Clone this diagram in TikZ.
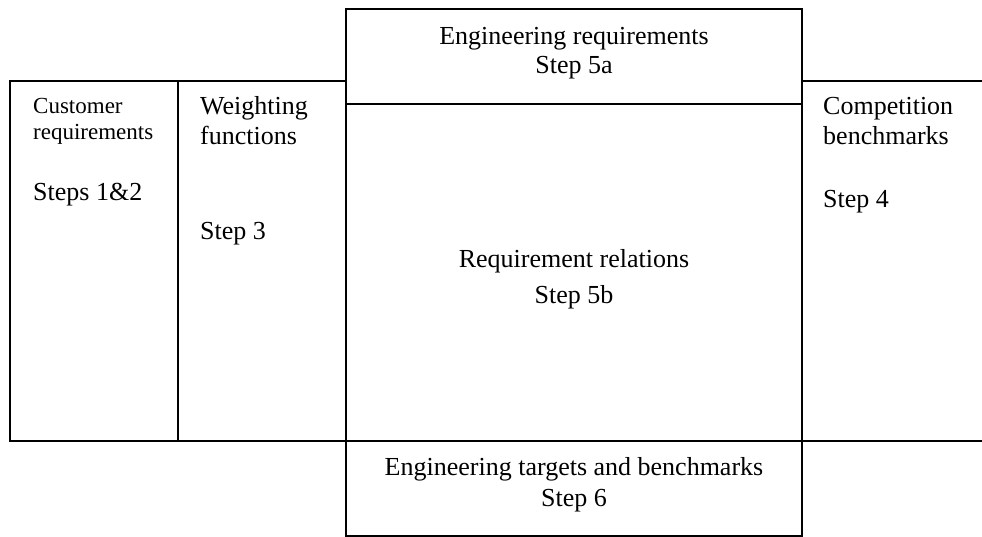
\documentclass[tikz,border=0pt]{standalone}
\usepackage{fontspec}
\setmainfont{Liberation Serif}
\begin{document}
\begin{tikzpicture}[x=1pt,y=-1pt,
  box/.style={draw, line width=1.6pt, inner sep=0pt, outer sep=0pt, anchor=north west},
  lbl/.style={inner sep=0pt, anchor=base west, font=\fontsize{26}{30}\selectfont},
  slbl/.style={inner sep=0pt, anchor=base west, font=\fontsize{23}{26}\selectfont},
  clbl/.style={inner sep=0pt, anchor=base, font=\fontsize{26}{30}\selectfont}]
\useasboundingbox (0,0) rectangle (982,537);
% boxes
\node[box, minimum width=456pt, minimum height=95pt] (top) at (346,9) {};
\node[box, minimum width=168pt, minimum height=360pt] (cust) at (10,81) {};
\node[box, minimum width=168pt, minimum height=360pt] (weight) at (178,81) {};
\node[box, minimum width=456pt, minimum height=337pt] (rel) at (346,104) {};
\node[box, minimum width=456pt, minimum height=95pt] (bot) at (346,441) {};
\coordinate (ctr) at (982,81);
\coordinate (cbr) at (982,441);
\draw[line width=1.6pt] (ctr) -- (rel.north east |- ctr) -- (rel.south east) -- (cbr);
% texts
\node[clbl] (t1) at (574,45) {Engineering requirements};
\node[clbl] (t2) at (574,74) {Step 5a};
\node[slbl] (c1) at (33,114) {Customer};
\node[slbl] (c2) at (33,140) {requirements};
\node[lbl] (c3) at (33,201) {Steps 1\&2};
\node[lbl] (w1) at (200,115) {Weighting};
\node[lbl] (w2) at (200,145) {functions};
\node[lbl] (w3) at (200,240) {Step 3};
\node[clbl] (r1) at (574,268) {Requirement relations};
\node[clbl] (r2) at (574,303) {Step 5b};
\node[lbl] (k1) at (823,115) {Competition};
\node[lbl] (k2) at (823,145) {benchmarks};
\node[lbl] (k3) at (823,208) {Step 4};
\node[clbl] (b1) at (574,475) {Engineering targets and benchmarks};
\node[clbl] (b2) at (574,506) {Step 6};
\end{tikzpicture}
\end{document}
